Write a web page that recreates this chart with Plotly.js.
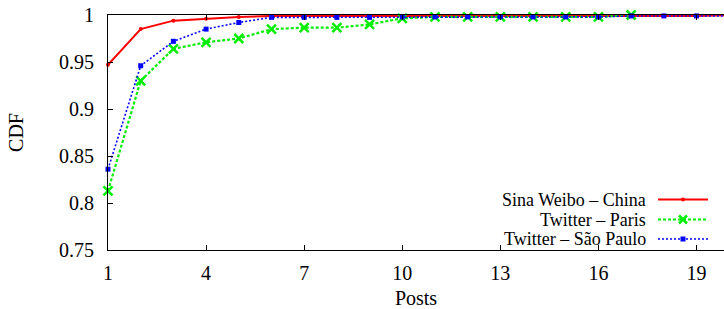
<!DOCTYPE html>
<html>
<head>
<meta charset="utf-8">
<script src="https://cdn.plot.ly/plotly-3.0.1.min.js"></script>
<style>html,body{margin:0;padding:0;background:#fff;}#chart{width:724px;height:309px;}</style>
</head>
<body>
<div id="chart"></div>
<script>
const posts = [1,2,3,4,5,6,7,8,9,10,11,12,13,14,15,16,17,18,19,20];
const weiboChina = [0.947,0.985,0.994,0.996,0.998,0.999,0.999,0.999,0.999,0.999,0.999,0.999,0.999,0.999,0.999,0.999,0.999,0.999,0.999,1.0];
const postsParis = [1,2,3,4,5,6,7,8,9,10,11,12,13,14,15,16,17];
const twitterParis = [0.813,0.930,0.964,0.971,0.975,0.985,0.9865,0.9865,0.990,0.9965,0.998,0.998,0.998,0.998,0.998,0.998,1.0];
const twitterSaoPaulo = [0.836,0.946,0.972,0.985,0.992,0.9975,0.9975,0.9975,0.9975,0.998,0.998,0.998,0.998,0.998,0.998,0.998,0.999,0.999,0.999,0.999];
const seriesNames = ['Sina Weibo – China','Twitter – Paris','Twitter – São Paulo'];
const xTicks = [1,4,7,10,13,16,19];
const yTicks = [0.75,0.8,0.85,0.9,0.95,1];
const yTickText = ['0.75','0.8','0.85','0.9','0.95','1'];

const FONT = 'Liberation Serif';
const FS = 20;
const LFS = 18;
const RED='#ff0000', GREEN='#00ee00', BLUE='#0000ff';

const traces = [
  {x: posts, y: weiboChina, name: seriesNames[0], mode:'lines+markers', cliponaxis:false,
   line:{color:RED,width:2}, marker:{symbol:'circle',size:4,color:RED}},
  {x: postsParis, y: twitterParis, name: seriesNames[1], mode:'lines+markers', cliponaxis:false,
   line:{color:GREEN,width:2.2,dash:'3px,2px'}, marker:{symbol:'x-thin',size:9,color:GREEN,line:{color:GREEN,width:2.5}}},
  {x: posts, y: twitterSaoPaulo, name: seriesNames[2], mode:'lines+markers', cliponaxis:false,
   line:{color:BLUE,width:1.6,dash:'2px,2px'}, marker:{symbol:'square',size:5,color:BLUE}}
];

const W = 724, H = 309, L = 108, T = 15, B = 59;
const styles = [
  {color:RED, dash:'solid', width:2},
  {color:GREEN, dash:'3px,2px', width:2.2},
  {color:BLUE, dash:'2px,2px', width:1.6}
];
const legRowsY = [199.5, 219.5, 239];
function pxPaper(pageX){ return (pageX-L)/(W-L); }
function pyPaper(pageY){ return (H-B-pageY)/(H-T-B); }
const px = 1/(W-L), py = 1/(H-T-B);
const annotations = [], shapes = [];
seriesNames.forEach((n,i)=>{
  const yp = pyPaper(legRowsY[i]);
  annotations.push({xref:'paper',yref:'paper',x:pxPaper(648),y:yp,xanchor:'right',yanchor:'middle',
    text:n,showarrow:false,font:{family:FONT,size:LFS,color:'#000'}});
  shapes.push({type:'line',xref:'paper',yref:'paper',x0:pxPaper(658),x1:pxPaper(708),y0:yp,y1:yp,
    line:{color:styles[i].color,width:styles[i].width,dash:styles[i].dash}});
});
const mx = pxPaper(683);
{
  const y0 = pyPaper(legRowsY[0]);
  shapes.push({type:'circle',xref:'paper',yref:'paper',x0:mx-2*px,x1:mx+2*px,y0:y0-2*py,y1:y0+2*py,fillcolor:RED,line:{width:0}});
  const y1 = pyPaper(legRowsY[1]);
  shapes.push({type:'line',xref:'paper',yref:'paper',x0:mx-4*px,x1:mx+4*px,y0:y1-4*py,y1:y1+4*py,line:{color:GREEN,width:2.5}});
  shapes.push({type:'line',xref:'paper',yref:'paper',x0:mx-4*px,x1:mx+4*px,y0:y1+4*py,y1:y1-4*py,line:{color:GREEN,width:2.5}});
  const y2 = pyPaper(legRowsY[2]);
  shapes.push({type:'rect',xref:'paper',yref:'paper',x0:mx-2.5*px,x1:mx+2.5*px,y0:y2-2.5*py,y1:y2+2.5*py,fillcolor:BLUE,line:{width:0}});
}

const layout = {
  width: W, height: H,
  margin:{l:L,r:0,t:T,b:B,pad:0},
  paper_bgcolor:'#fff', plot_bgcolor:'#fff',
  showlegend:false,
  font:{family:FONT,size:FS,color:'#000'},
  xaxis:{range:[1,19.84],tickvals:xTicks,ticktext:xTicks.map(String),ticks:'inside',ticklen:5,tickcolor:'#000',
    showline:true,linecolor:'#000',linewidth:1,mirror:'allticks',showgrid:false,zeroline:false,
    ticklabelstandoff:5,
    title:{text:'Posts',font:{family:FONT,size:FS},standoff:14},tickfont:{family:FONT,size:FS}},
  yaxis:{range:[0.75,1],tickvals:yTicks,ticktext:yTickText,ticks:'inside',ticklen:5,tickcolor:'#000',
    showline:true,linecolor:'#000',linewidth:1,mirror:false,showgrid:false,zeroline:false,
    ticklabelstandoff:9,
    title:{text:'CDF',font:{family:FONT,size:FS},standoff:30},tickfont:{family:FONT,size:FS}},
  annotations: annotations,
  shapes: shapes
};
Plotly.newPlot('chart', traces, layout, {displayModeBar:false, staticPlot:true});
</script>
</body>
</html>
